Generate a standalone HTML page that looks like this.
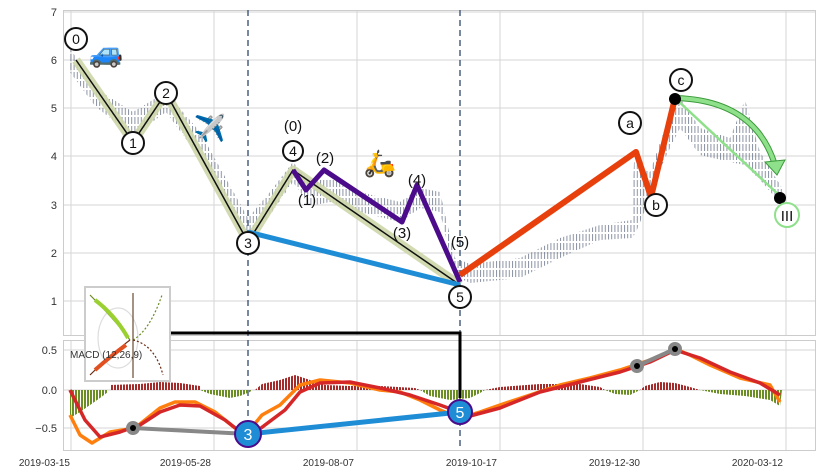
<!DOCTYPE html>
<html><head><meta charset="utf-8"><style>
body{margin:0;background:#fff;}
svg{display:block;font-family:"Liberation Sans",sans-serif;}
</style></head><body>
<svg width="822" height="473" viewBox="0 0 822 473" xmlns="http://www.w3.org/2000/svg">
<defs>
<pattern id="cp" x="0" y="0" width="3.2" height="9" patternUnits="userSpaceOnUse">
<rect x="0" y="0" width="1" height="7" fill="#3a4a66"/>
</pattern>
<pattern id="hr" x="0" y="0" width="3" height="10" patternUnits="userSpaceOnUse">
<rect x="0" y="0" width="2" height="10" fill="#a52a2a"/>
</pattern>
<pattern id="hg" x="0" y="0" width="3" height="10" patternUnits="userSpaceOnUse">
<rect x="0" y="0" width="2" height="10" fill="#6b8e23"/>
</pattern>
</defs>
<rect width="822" height="473" fill="#fff"/>
<g stroke="#d6d6d6" stroke-width="1">
<line x1="71" y1="10" x2="71" y2="335"/><line x1="214" y1="10" x2="214" y2="335"/><line x1="357" y1="10" x2="357" y2="335"/><line x1="500" y1="10" x2="500" y2="335"/><line x1="643" y1="10" x2="643" y2="335"/><line x1="786" y1="10" x2="786" y2="335"/>
<line x1="71" y1="340" x2="71" y2="450"/><line x1="214" y1="340" x2="214" y2="450"/><line x1="357" y1="340" x2="357" y2="450"/><line x1="500" y1="340" x2="500" y2="450"/><line x1="643" y1="340" x2="643" y2="450"/><line x1="786" y1="340" x2="786" y2="450"/>
<line x1="63" y1="12" x2="815" y2="12"/><line x1="63" y1="60" x2="815" y2="60"/><line x1="63" y1="108" x2="815" y2="108"/><line x1="63" y1="156" x2="815" y2="156"/><line x1="63" y1="205" x2="815" y2="205"/><line x1="63" y1="253" x2="815" y2="253"/><line x1="63" y1="301" x2="815" y2="301"/>
<line x1="63" y1="350" x2="815" y2="350"/><line x1="63" y1="390" x2="815" y2="390"/><line x1="63" y1="428" x2="815" y2="428"/>
</g>
<rect x="63.5" y="10.5" width="752" height="325" fill="none" stroke="#ccc"/>
<rect x="63.5" y="340.5" width="752" height="110" fill="none" stroke="#ccc"/>
<polygon fill="url(#cp)" opacity="0.6" points="70,48 95,88 133,112 166,92 200,132 248,218 270,192 293,162 310,182 330,178 360,192 400,202 420,188 440,192 455,258 470,264 520,258 560,238 600,225 632,220 634,162 650,172 665,128 680,98 700,128 730,138 745,100 760,152 782,188 782,205 760,180 745,165 730,162 700,155 680,128 665,158 650,198 636,232 632,238 600,240 560,258 520,278 470,283 455,276 440,212 420,208 400,222 360,212 330,202 310,206 293,182 270,215 248,236 200,158 166,112 133,136 95,106 70,72"/>
<line x1="248" y1="10" x2="248" y2="450" stroke="#4a6080" stroke-width="1.5" stroke-dasharray="6,4"/>
<line x1="460" y1="10" x2="460" y2="450" stroke="#4a6080" stroke-width="1.5" stroke-dasharray="6,4"/>
<polyline points="76,60 133,142 166,93 248,242 293,170 460,285" fill="none" stroke="#cdd6a8" stroke-width="9" stroke-linejoin="round" opacity="0.9"/>
<polyline points="76,60 133,142 166,93 248,242 293,170 460,285" fill="none" stroke="#111" stroke-width="1.5"/>
<polyline points="293,170 306,190 324,170 402,222 417,185 460,282" fill="none" stroke="#4b0b8a" stroke-width="5" stroke-linejoin="round"/>
<line x1="248" y1="232" x2="460" y2="285" stroke="#1f8dd6" stroke-width="5"/>
<polyline points="460,275 636,152 651,197 675,98" fill="none" stroke="#e8400c" stroke-width="6" stroke-linejoin="round"/>
<line x1="675" y1="98" x2="780" y2="196" stroke="#8fe08a" stroke-width="2.5"/>
<path d="M675,98 Q755,100 775,165" fill="none" stroke="#3c9a3c" stroke-width="6"/>
<path d="M675,98 Q755,100 775,165" fill="none" stroke="#8fe08a" stroke-width="4"/>
<polygon points="765,162 785,160 777,175" fill="#8fe08a" stroke="#3c9a3c" stroke-width="1"/>
<circle cx="675" cy="99" r="6" fill="#000"/>
<circle cx="780" cy="198" r="6" fill="#000"/>
<g fill="#fff" stroke="#111" stroke-width="2">
<circle cx="76" cy="39" r="11"/><circle cx="133" cy="143" r="11"/><circle cx="166" cy="93" r="11"/><circle cx="248" cy="243" r="11"/><circle cx="293" cy="151" r="10"/><circle cx="460" cy="297" r="11"/><circle cx="630" cy="123" r="11"/><circle cx="656" cy="205" r="11"/><circle cx="681" cy="80" r="11"/>
</g>
<circle cx="787" cy="215" r="12" fill="#fff" stroke="#8fe08a" stroke-width="2"/>
<g font-size="14" fill="#111" text-anchor="middle">
<text x="76" y="44">0</text><text x="133" y="148">1</text><text x="166" y="98">2</text><text x="248" y="248">3</text><text x="293" y="156">4</text><text x="460" y="302">5</text><text x="630" y="128">a</text><text x="656" y="210">b</text><text x="681" y="85">c</text><text x="787" y="221" font-size="15">III</text>
<text x="293" y="131" font-size="15">(0)</text><text x="307" y="205" font-size="15">(1)</text><text x="325" y="163" font-size="15">(2)</text><text x="402" y="238" font-size="15">(3)</text><text x="417" y="185" font-size="15">(4)</text><text x="460" y="247" font-size="15">(5)</text>
</g>
<text x="106" y="62" font-size="28" text-anchor="middle">🚙</text>
<text x="210" y="137" font-size="26" text-anchor="middle">✈️</text>
<text x="380" y="172" font-size="26" text-anchor="middle">🛵</text>
<polygon fill="url(#hg)" points="70,390 70,418 80,412 90,405 100,398 108,392 108,390"/>
<polygon fill="url(#hr)" points="110,390 110,385 140,384 160,382 180,383 200,386 200,390"/>
<polygon fill="url(#hg)" points="200,390 210,394 230,398 240,396 250,392 252,390"/>
<polygon fill="url(#hr)" points="255,390 262,384 280,380 295,375 310,380 325,385 350,386 380,386 415,388 420,390"/>
<polygon fill="url(#hg)" points="420,390 430,396 450,400 470,398 480,393 485,390"/>
<polygon fill="url(#hr)" points="485,390 500,387 540,384 580,384 600,387 605,390"/>
<polygon fill="url(#hg)" points="605,390 615,394 630,395 640,390"/>
<polygon fill="url(#hr)" points="640,390 645,386 660,382 675,383 690,387 700,390"/>
<polygon fill="url(#hg)" points="700,390 720,394 745,396 770,400 780,406 782,390"/>
<polyline fill="none" stroke="#ff7f0e" stroke-width="3.5" stroke-linejoin="round" points="70,415 80,435 92,443 110,432 135,428 160,408 175,402 195,402 215,412 235,428 248,432 262,415 280,405 300,385 320,380 350,383 380,390 400,392 420,400 440,410 460,418 480,412 500,405 530,395 560,385 590,378 620,370 650,360 675,349 690,355 710,365 740,378 770,385 780,402"/>
<polyline fill="none" stroke="#d62728" stroke-width="3.5" stroke-linejoin="round" points="70,390 85,420 100,437 120,432 140,425 160,412 180,405 200,406 225,420 248,438 265,425 285,410 300,392 320,383 350,382 380,388 410,395 440,405 470,416 500,408 540,392 580,382 620,372 650,362 675,350 700,358 730,372 760,383 780,395"/>
<line x1="133" y1="428" x2="248" y2="434" stroke="#888" stroke-width="4"/>
<line x1="248" y1="434" x2="460" y2="412" stroke="#1f8dd6" stroke-width="5"/>
<line x1="637" y1="366" x2="675" y2="349" stroke="#888" stroke-width="4"/>
<circle cx="133" cy="428" r="7" fill="#888"/><circle cx="133" cy="428" r="3" fill="#000"/>
<circle cx="637" cy="366" r="7" fill="#888"/><circle cx="637" cy="366" r="3" fill="#000"/>
<circle cx="675" cy="349" r="7" fill="#888"/><circle cx="675" cy="349" r="3" fill="#000"/>
<circle cx="248" cy="434" r="13" fill="#1f8dd6" stroke="#4b0b8a" stroke-width="2"/>
<circle cx="460" cy="412" r="12" fill="#1f8dd6" stroke="#4b0b8a" stroke-width="2"/>
<text x="248" y="440" font-size="16" fill="#fff" text-anchor="middle">3</text>
<text x="460" y="418" font-size="16" fill="#fff" text-anchor="middle">5</text>
<polyline points="170,333 460,333 460,398" fill="none" stroke="#000" stroke-width="3"/>
<rect x="85" y="287" width="85" height="94" fill="#fff" stroke="#ccc" stroke-width="2"/>
<g fill="none" stroke-width="1.2">
<ellipse cx="118" cy="338" rx="20" ry="30" stroke="#ddd"/>
<path d="M90,295 Q115,320 130,340" stroke="#6a8a20"/><path d="M95,300 Q115,315 128,338" stroke="#9ad030" stroke-width="4"/>
<path d="M90,375 Q110,355 130,340" stroke="#6a2a10"/><path d="M95,370 Q112,355 126,345" stroke="#e05020" stroke-width="4"/>
<path d="M133,293 L133,378" stroke="#6a4a30"/>
<path d="M133,340 Q150,330 162,295" stroke="#6a8a20" stroke-dasharray="2,2"/>
<path d="M133,340 Q155,345 163,375" stroke="#6a2a10" stroke-dasharray="2,2"/>
</g>
<text x="70" y="358" font-size="10" fill="#333">MACD (12,26,9)</text>
<g font-size="11" fill="#333" text-anchor="end">
<text x="57" y="16">7</text><text x="57" y="64">6</text><text x="57" y="112">5</text><text x="57" y="160">4</text><text x="57" y="209">3</text><text x="57" y="257">2</text><text x="57" y="305">1</text>
<text x="57" y="354">0.5</text><text x="57" y="394">0.0</text><text x="57" y="432">−0.5</text>
</g>
<g font-size="10" fill="#333" text-anchor="end">
<text x="70" y="466">2019-03-15</text><text x="211" y="466">2019-05-28</text><text x="354" y="466">2019-08-07</text><text x="497" y="466">2019-10-17</text><text x="640" y="466">2019-12-30</text><text x="783" y="466">2020-03-12</text>
</g>
</svg>
</body></html>
